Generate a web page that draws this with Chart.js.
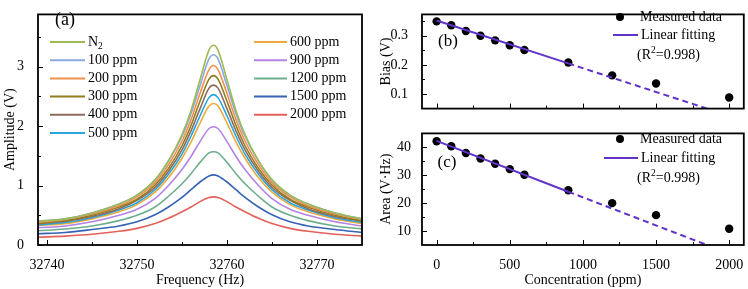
<!DOCTYPE html>
<html>
<head>
<meta charset="utf-8">
<script src="https://cdn.jsdelivr.net/npm/chart.js@4.4.0/dist/chart.umd.min.js"></script>
<style>
body { margin: 0; background: #fff; width: 748px; height: 289px; overflow: hidden; position: relative; }
canvas { position: absolute; }
#ca { left: 0; top: 0; }
#cb { left: 372px; top: 0; }
#cc { left: 372px; top: 122px; }
</style>
</head>
<body>
<canvas id="ca" width="370" height="289"></canvas>
<canvas id="cb" width="376" height="123"></canvas>
<canvas id="cc" width="376" height="167"></canvas>
<script>
// (a) resonance curves, amplitude (V)
var freq = [32739, 32742, 32745, 32748, 32750, 32752, 32753.5, 32755, 32756, 32757, 32758, 32758.5,
            32759, 32760, 32761, 32762, 32763.5, 32765, 32767, 32769, 32772, 32775];
var ampN2   = [0.40,0.44,0.54,0.69,0.84,1.10,1.42,1.86,2.26,2.78,3.28,3.36,3.28,2.78,2.26,1.86,1.42,1.10,0.84,0.69,0.54,0.44];
var amp100  = [0.40,0.44,0.54,0.69,0.84,1.09,1.41,1.83,2.21,2.68,3.13,3.20,3.13,2.68,2.21,1.83,1.41,1.09,0.84,0.69,0.54,0.44];
var amp200  = [0.38,0.43,0.52,0.66,0.81,1.05,1.35,1.75,2.11,2.55,2.95,3.02,2.95,2.55,2.11,1.75,1.35,1.05,0.81,0.66,0.52,0.43];
var amp300  = [0.37,0.41,0.50,0.64,0.77,1.01,1.29,1.67,2.01,2.42,2.79,2.85,2.79,2.42,2.01,1.67,1.29,1.01,0.77,0.64,0.50,0.41];
var amp400  = [0.36,0.40,0.48,0.61,0.75,0.97,1.24,1.60,1.92,2.29,2.64,2.69,2.64,2.29,1.92,1.60,1.24,0.97,0.75,0.61,0.48,0.40];
var amp500  = [0.34,0.38,0.46,0.59,0.71,0.93,1.19,1.53,1.83,2.17,2.48,2.53,2.48,2.17,1.83,1.53,1.19,0.93,0.71,0.59,0.46,0.38];
var amp600  = [0.33,0.36,0.44,0.56,0.68,0.89,1.13,1.46,1.73,2.05,2.34,2.38,2.34,2.05,1.73,1.46,1.13,0.89,0.68,0.56,0.44,0.36];
var amp900  = [0.29,0.32,0.39,0.50,0.60,0.78,1.00,1.27,1.49,1.74,1.96,1.99,1.96,1.74,1.49,1.27,1.00,0.78,0.60,0.50,0.39,0.32];
var amp1200 = [0.24,0.27,0.32,0.41,0.50,0.64,0.82,1.03,1.20,1.39,1.55,1.57,1.55,1.39,1.20,1.03,0.82,0.64,0.50,0.41,0.32,0.27];
var amp1500 = [0.19,0.21,0.26,0.32,0.39,0.51,0.64,0.80,0.93,1.06,1.16,1.18,1.16,1.06,0.93,0.80,0.64,0.51,0.39,0.32,0.26,0.21];
var amp2000 = [0.13,0.15,0.18,0.23,0.28,0.36,0.45,0.56,0.64,0.73,0.80,0.81,0.80,0.73,0.64,0.56,0.45,0.36,0.28,0.23,0.18,0.15];
var seriesNames = ['N2', '100 ppm', '200 ppm', '300 ppm', '400 ppm', '500 ppm', '600 ppm', '900 ppm', '1200 ppm', '1500 ppm', '2000 ppm'];
var seriesAmps = [ampN2, amp100, amp200, amp300, amp400, amp500, amp600, amp900, amp1200, amp1500, amp2000];
var seriesColors = ['#9cba55', '#8aa8e2', '#f0904c', '#8f7d1e', '#8e6b5e', '#27a7dc',
                    '#eeab3c', '#b483e6', '#6fae8c', '#3563b5', '#e3615a'];
var freqTicks = [32740, 32750, 32760, 32770];
var ampTicks = [0, 1, 2, 3];

// (b)/(c) measured points and linear fit
var conc = [0, 100, 200, 300, 400, 500, 600, 900, 1200, 1500, 2000];
var bias = [0.349, 0.336, 0.316, 0.300, 0.284, 0.267, 0.251, 0.208, 0.164, 0.136, 0.088];
var area = [42.2, 40.4, 38.0, 36.0, 34.1, 32.2, 30.2, 24.6, 20.0, 15.7, 10.8];
var fitConcSolid = [0, 900];
var fitConcDash = [900, 2100];
var biasFitSolid = [0.352, 0.205];
var biasFitDash = [0.205, 0.009];
var areaFitSolid = [42.3, 24.1];
var areaFitDash = [24.1, -0.06];
var concTicks = [0, 500, 1000, 1500, 2000];
var biasTicks = [0.1, 0.2, 0.3];
var areaTicks = [10, 20, 30, 40];

var SERIF = '"Liberation Serif", "Times New Roman", serif';
var FIT = '#6233c8';

function pts(xs, ys) {
  return xs.map(function (x, i) { return { x: x, y: ys[i] }; });
}

function drawSubText(ctx, x, y, parts) {
  // parts: [text, mode] with mode 'n' normal, 'sub', 'sup'
  parts.forEach(function (p) {
    if (p[1] === 'n') {
      ctx.font = '14px ' + SERIF;
      ctx.fillText(p[0], x, y);
    } else {
      ctx.font = '9.5px ' + SERIF;
      ctx.fillText(p[0], x, p[1] === 'sub' ? y + 4 : y - 5);
    }
    x += ctx.measureText(p[0]).width;
  });
}

var deco = {
  id: 'deco',
  afterDraw: function (chart, args, o) {
    var ctx = chart.ctx, a = chart.chartArea;
    var sx = chart.scales.x, sy = chart.scales.y;
    ctx.save();
    ctx.strokeStyle = '#000';
    ctx.lineWidth = 1;
    function xt(vals, len) {
      vals.forEach(function (v) {
        var p = Math.round(sx.getPixelForValue(v)) + 0.5;
        ctx.beginPath(); ctx.moveTo(p, a.bottom); ctx.lineTo(p, a.bottom - len); ctx.stroke();
      });
    }
    function yt(vals, len) {
      vals.forEach(function (v) {
        var p = Math.round(sy.getPixelForValue(v)) + 0.5;
        ctx.beginPath(); ctx.moveTo(a.left, p); ctx.lineTo(a.left + len, p); ctx.stroke();
      });
    }
    xt(o.xMajor, 5); xt(o.xMinor, 3);
    yt(o.yMajor, 5); yt(o.yMinor, 3);
    ctx.lineWidth = 1.8;
    ctx.strokeRect(a.left, a.top, a.right - a.left, a.bottom - a.top);

    ctx.fillStyle = '#000';
    ctx.textBaseline = 'middle';
    ctx.textAlign = 'center';
    ctx.font = o.panelSize + 'px ' + SERIF;
    ctx.fillText(o.panel[0], o.panel[1], o.panel[2]);
    ctx.textAlign = 'left';

    (o.lines || []).forEach(function (it) {
      ctx.strokeStyle = it.color;
      ctx.lineWidth = 2;
      ctx.beginPath(); ctx.moveTo(it.x0, it.y); ctx.lineTo(it.x1, it.y); ctx.stroke();
      ctx.fillStyle = '#000';
      drawSubText(ctx, it.tx, it.y, it.parts);
    });
    (o.dots || []).forEach(function (it) {
      ctx.fillStyle = '#000';
      ctx.beginPath(); ctx.arc(it.x, it.y, 4, 0, Math.PI * 2); ctx.fill();
      drawSubText(ctx, it.tx, it.y, it.parts);
    });
    (o.texts || []).forEach(function (it) {
      ctx.fillStyle = '#000';
      drawSubText(ctx, it.tx, it.y, it.parts);
    });
    ctx.restore();
  }
};

function tickFont() { return { family: SERIF, size: 14 }; }

// ---------- (a) ----------
var legendLines = seriesNames.map(function (name, i) {
  var col = i < 6 ? 0 : 1;
  var row = i < 6 ? i : i - 6;
  var parts = name === 'N2' ? [['N', 'n'], ['2', 'sub']] : [[name, 'n']];
  return {
    color: seriesColors[i],
    x0: col ? 254 : 50, x1: col ? 287 : 85, tx: col ? 290 : 88,
    y: 42 + 18.2 * row, parts: parts
  };
});

new Chart('ca', {
  type: 'line',
  data: {
    datasets: seriesNames.map(function (name, i) {
      return {
        label: name,
        data: pts(freq, seriesAmps[i]),
        borderColor: seriesColors[i],
        borderWidth: 1.6,
        pointRadius: 0,
        cubicInterpolationMode: 'monotone',
        fill: false
      };
    })
  },
  options: {
    responsive: false, animation: false, devicePixelRatio: 1,
    layout: { padding: { top: 5, right: 8, left: 0, bottom: 0 } },
    plugins: {
      legend: { display: false }, tooltip: { enabled: false },
      deco: {
        xMajor: freqTicks, xMinor: [32745, 32755, 32765],
        yMajor: ampTicks, yMinor: [0.5, 1.5, 2.5, 3.5],
        panel: ['(a)', 65, 20], panelSize: 18,
        lines: legendLines
      }
    },
    scales: {
      x: {
        type: 'linear', min: 32739, max: 32775,
        grid: { display: false }, border: { display: false },
        afterBuildTicks: function (s) { s.ticks = freqTicks.map(function (v) { return { value: v }; }); },
        afterFit: function (s) { s.height = 44; },
        ticks: { color: '#000', font: tickFont(), padding: 4, maxRotation: 0, autoSkip: false,
                 callback: function (v) { return String(v); } },
        title: { display: true, text: 'Frequency (Hz)', color: '#000', font: tickFont(), padding: { top: 2, bottom: 0 } }
      },
      y: {
        min: 0, max: 3.88,
        grid: { display: false }, border: { display: false },
        afterBuildTicks: function (s) { s.ticks = ampTicks.map(function (v) { return { value: v }; }); },
        afterFit: function (s) { s.width = 38; },
        ticks: { color: '#000', font: tickFont(), padding: 6, callback: function (v) { return String(v); } },
        title: { display: true, text: 'Amplitude (V)', color: '#000', font: tickFont(), padding: { top: 2, bottom: 0 } }
      }
    }
  },
  plugins: [deco]
});

// ---------- (b) and (c) ----------
function fitChart(id, yVals, solid, dash, yMin, yMax, yTicks, yMinor, fmt, opts) {
  return new Chart(id, {
    type: 'scatter',
    data: {
      datasets: [
        { data: pts(fitConcSolid, solid), showLine: true, borderColor: FIT, borderWidth: 2, pointRadius: 0, order: 0 },
        { data: pts(fitConcDash, dash), showLine: true, borderColor: FIT, borderWidth: 2, borderDash: [6, 4], pointRadius: 0, order: 0 },
        { data: pts(conc, yVals), showLine: false, pointRadius: 4.2, pointBackgroundColor: '#000', pointBorderWidth: 0, order: 1 }
      ]
    },
    options: {
      responsive: false, animation: false, devicePixelRatio: 1,
      layout: { padding: { top: opts.padTop, right: 3, left: 0, bottom: 0 } },
      plugins: {
        legend: { display: false }, tooltip: { enabled: false },
        deco: {
          xMajor: concTicks, xMinor: [250, 750, 1250, 1750],
          yMajor: yTicks, yMinor: yMinor,
          panel: opts.panel, panelSize: 17,
          dots: [{ x: 248, tx: 268, y: 17, parts: [['Measured data', 'n']] }],
          lines: [{ color: FIT, x0: opts.lineX0, x1: 266, tx: 269, y: opts.lineY, parts: [['Linear fitting', 'n']] }],
          texts: [{ tx: 265, y: opts.lineY + 20, parts: [['(R', 'n'], ['2', 'sup'], ['=0.998)', 'n']] }]
        }
      },
      scales: {
        x: {
          type: 'linear', min: -100, max: 2100,
          grid: { display: false }, border: { display: false },
          afterBuildTicks: function (s) { s.ticks = concTicks.map(function (v) { return { value: v }; }); },
          afterFit: function (s) { s.height = opts.xHeight; },
          ticks: { display: opts.showX, color: '#000', font: tickFont(), padding: 4, maxRotation: 0, autoSkip: false,
                   callback: function (v) { return String(v); } },
          title: { display: opts.showX, text: 'Concentration (ppm)', color: '#000', font: tickFont(), padding: { top: 1, bottom: 0 } }
        },
        y: {
          min: yMin, max: yMax,
          grid: { display: false }, border: { display: false },
          afterBuildTicks: function (s) { s.ticks = yTicks.map(function (v) { return { value: v }; }); },
          afterFit: function (s) { s.width = 50; },
          ticks: { color: '#000', font: tickFont(), padding: opts.yPad, callback: fmt },
          title: { display: true, text: opts.yTitle, color: '#000', font: tickFont(), padding: { top: 6, bottom: 0 } }
        }
      }
    },
    plugins: [deco]
  });
}

fitChart('cb', bias, biasFitSolid, biasFitDash, 0.05, 0.373, biasTicks, [0.15, 0.25, 0.35],
  function (v) { return v.toFixed(1); },
  { padTop: 3, xHeight: 1, showX: false, yPad: 6, yTitle: 'Bias (V)', panel: ['(b)', 76, 42], lineX0: 241, lineY: 35 });

fitChart('cc', area, areaFitSolid, areaFitDash, 5, 45, areaTicks, [15, 25, 35],
  function (v) { return String(v); },
  { padTop: 1, xHeight: 44, showX: true, yPad: 3, yTitle: 'Area (V\u00B7Hz)', panel: ['(c)', 75, 41], lineX0: 232, lineY: 36 });
</script>
</body>
</html>
